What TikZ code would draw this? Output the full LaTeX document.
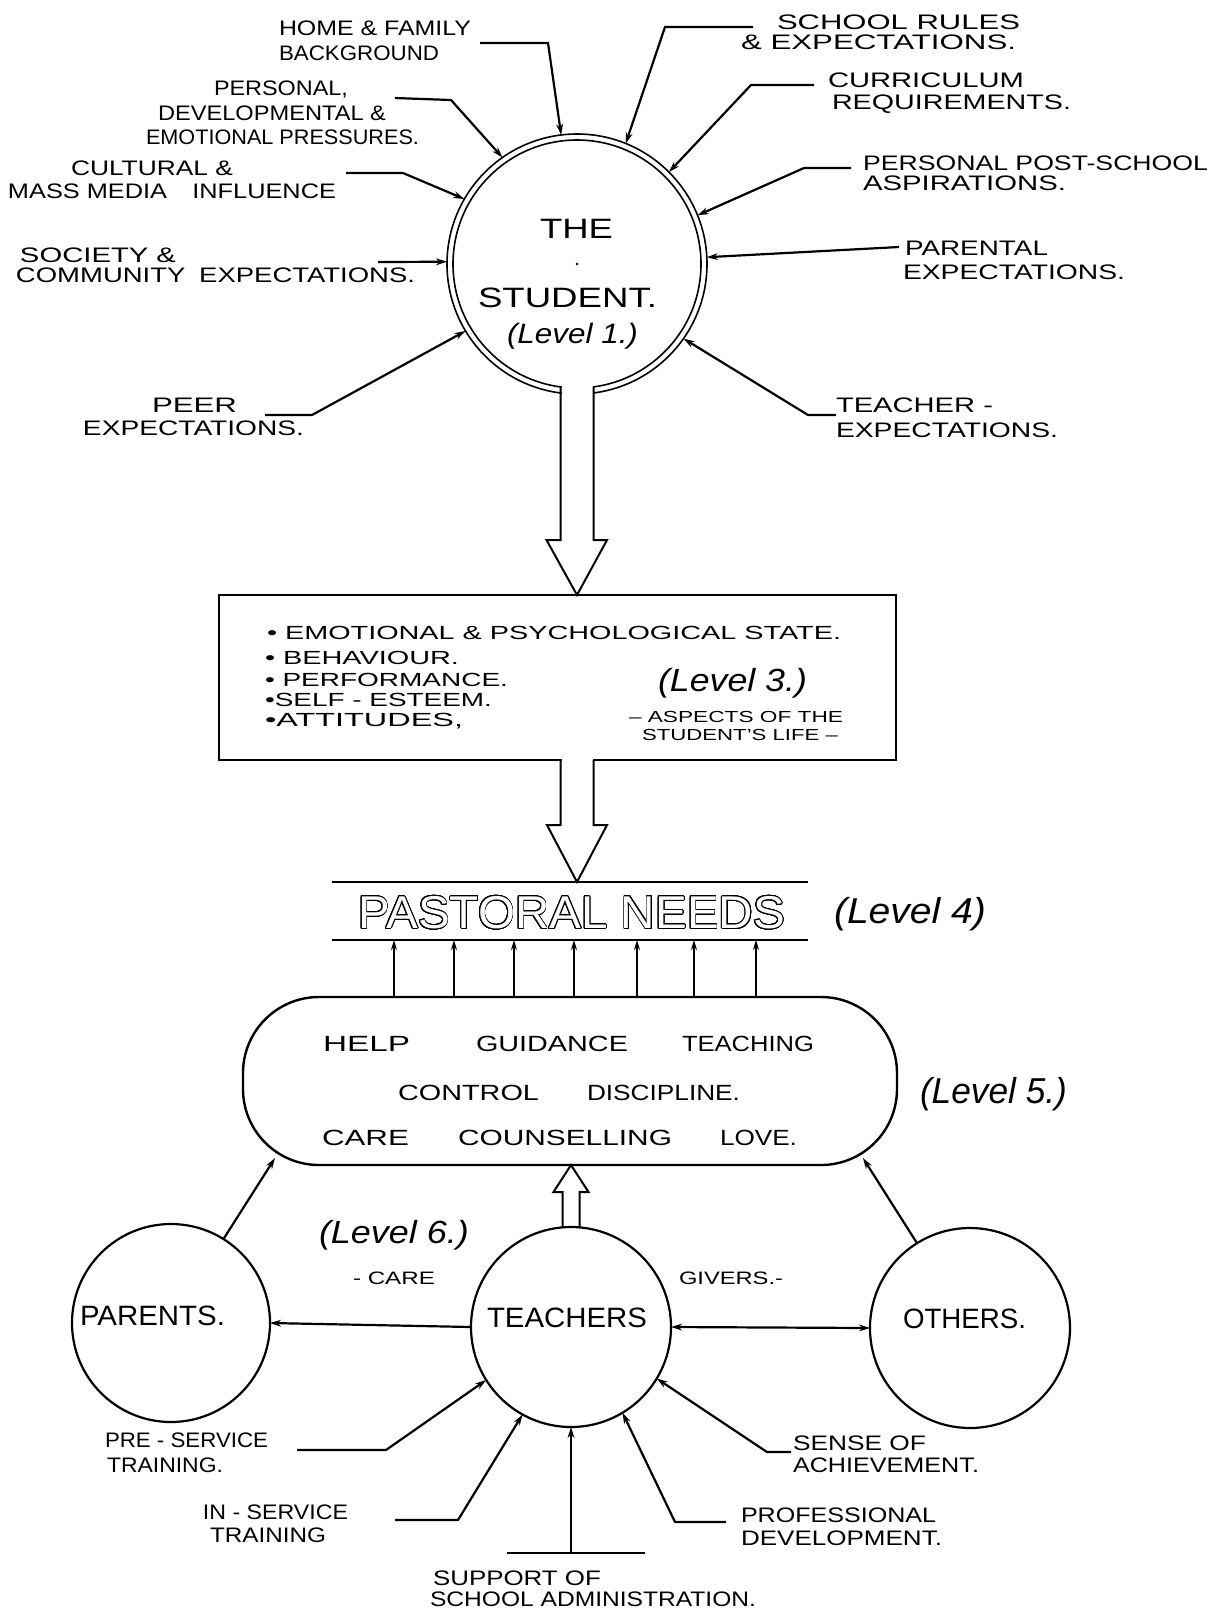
\documentclass[tikz,border=0pt]{standalone}
\usepackage{fontspec}
\setmainfont{Liberation Sans}
\usepackage{graphicx}
\usepackage{contour}
\contourlength{0.4pt}
\contournumber{32}
\usetikzlibrary{arrows.meta,calc}
\newsavebox\fitbox
\newcommand\fitto[2]{\sbox\fitbox{#2}\scalebox{\fpeval{(#1*0.5)/(\the\wd\fitbox)}}[1]{\usebox\fitbox}}
\tikzset{
  lab/.style={anchor=west, inner sep=0pt, outer sep=0pt, font=\fontsize{10.5}{12}\selectfont, text height=7.5pt, text depth=0pt},
  boxt/.style={lab, font=\fontsize{9.5}{11}\selectfont, text height=6.8pt},
  small/.style={lab, font=\fontsize{8}{9}\selectfont, text height=5.7pt},
  sm2/.style={lab, font=\fontsize{9}{10}\selectfont, text height=6.5pt},
  mid/.style={lab, font=\fontsize{11}{13}\selectfont, text height=8pt},
  big/.style={lab, font=\fontsize{14}{16}\selectfont, text height=10pt},
  lev/.style={lab, font=\fontsize{16}{18}\selectfont\itshape, text height=11.5pt},
  lead/.style={line width=1.1pt, -{Stealth[length=5.5pt,width=3.4pt]}},
  upar/.style={line width=0.7pt, -{Stealth[length=5pt,width=3pt]}},
  rim/.style={line width=0.8pt},
  ring/.style={circle, draw, line width=1.1pt, inner sep=0pt, outer sep=0pt},
}
\begin{document}
\begin{tikzpicture}[x=0.5pt,y=-0.5pt]
\fill[white] (0,0) rectangle (1216,1614);
\useasboundingbox (0,0) rectangle (1216,1614);

% ---------- Level 1 : the student ----------
\node[circle, minimum size=130pt, inner sep=0pt, outer sep=0pt] (student) at (577,264) {};
\draw[rim] (student.center) circle[radius=130] (student.center) circle[radius=124];
\fill[white] (562,380) rectangle (592.5,400);
\fill (student.center) circle[radius=1.4];
\node[big] (the) at (540,228) {\fitto{73}{THE}};
\node[big] (stu) at (478,297) {\fitto{179}{STUDENT.}};
\node[lev, font=\fontsize{14}{16}\selectfont\itshape, text height=10pt] (lv1) at (507,333) {\fitto{131}{(Level 1.)}};

% left labels
\node[lab] (h1) at (279,28) {\fitto{192}{HOME \& FAMILY}};
\node[lab] (h2) at (279,53) {\fitto{160}{BACKGROUND}};
\node[lab] (p1) at (214,88) {\fitto{134}{PERSONAL,}};
\node[lab] (p2) at (158,113) {\fitto{228}{DEVELOPMENTAL \&}};
\node[lab] (p3) at (146,137) {\fitto{273}{EMOTIONAL PRESSURES.}};
\node[lab] (c1) at (71,168) {\fitto{162}{CULTURAL \&}};
\node[lab] (c2) at (8,191) {\fitto{328}{MASS MEDIA\quad INFLUENCE}};
\node[lab] (s1) at (20,255) {\fitto{156}{SOCIETY \&}};
\node[lab] (s2) at (16,275) {\fitto{399}{COMMUNITY\enspace EXPECTATIONS.}};
\node[lab] (e1) at (152,405) {\fitto{85}{PEER}};
\node[lab] (e2) at (83,428) {\fitto{221}{EXPECTATIONS.}};
% right labels
\node[lab] (r1) at (777,22) {\fitto{243}{SCHOOL RULES}};
\node[lab] (r2) at (741,42) {\fitto{275}{\& EXPECTATIONS.}};
\node[lab] (q1) at (828,80) {\fitto{196}{CURRICULUM}};
\node[lab] (q2) at (832,102) {\fitto{239}{REQUIREMENTS.}};
\node[lab] (a1) at (863,163) {\fitto{345}{PERSONAL POST-SCHOOL}};
\node[lab] (a2) at (863,183) {\fitto{203}{ASPIRATIONS.}};
\node[lab] (t1) at (905,248) {\fitto{143}{PARENTAL}};
\node[lab] (t2) at (903,272) {\fitto{222}{EXPECTATIONS.}};
\node[lab] (u1) at (836,405) {\fitto{157}{TEACHER -}};
\node[lab] (u2) at (836,430) {\fitto{222}{EXPECTATIONS.}};

% leaders into the student
\coordinate (hA) at (480,43);  \coordinate (hB) at (548,43);
\draw[lead] (hA) -- (hB) -- (student.97.5);
\coordinate (pA) at (395,98);  \coordinate (pB) at (451,100);
\draw[lead] (pA) -- (pB) -- (student.125.7);
\coordinate (cA) at (346,173); \coordinate (cB) at (403,173);
\draw[lead] (cA) -- (cB) -- (student.150.7);
\coordinate (sA) at (378,262);
\draw[lead] (sA) -- (student.179.5);
\coordinate (eA) at (265,415); \coordinate (eB) at (312,415);
\draw[lead] (eA) -- (eB) -- (student.211.7);
\coordinate (rA) at (753,27);  \coordinate (rB) at (665,27);
\draw[lead] (rA) -- (rB) -- (student.68.4);
\coordinate (qA) at (814,85);  \coordinate (qB) at (751,85);
\draw[lead] (qA) -- (qB) -- (student.45);
\coordinate (aA) at (851,168); \coordinate (aB) at (804,168);
\draw[lead] (aA) -- (aB) -- (student.22.9);
\coordinate (tA) at (899,247);
\draw[lead] (tA) -- (student.3);
\coordinate (uA) at (836,415); \coordinate (uB) at (808,415);
\draw[lead] (uA) -- (uB) -- (student.-35.6);

% ---------- Level 3 box ----------
\node[draw, line width=1.2pt, minimum width=338.5pt, minimum height=82.5pt, inner sep=0pt, outer sep=0pt] (aspects) at (557.5,677.5) {};
\draw[rim, line width=1pt] ($(student.center)+(-16.5,122.9)$) -- ($(student.center)+(-16.5,276)$) -- ++(-14,0)
  -- (aspects.north -| student.center) -- ($(student.center)+(30,276)$) -- ++(-13.5,0) -- ($(student.center)+(16.5,122.9)$);
\node[boxt] (b1) at (267,633) {\fitto{574}{\textbullet\ EMOTIONAL \& PSYCHOLOGICAL STATE.}};
\node[boxt] (b2) at (265,658) {\fitto{194}{\textbullet\ BEHAVIOUR.}};
\node[boxt] (b3) at (265,680) {\fitto{243}{\textbullet\ PERFORMANCE.}};
\node[boxt] (b4) at (265,700) {\fitto{227}{\textbullet SELF - ESTEEM.}};
\node[boxt] (b5) at (265,720) {\fitto{198}{\textbullet ATTITUDES,}};
\node[lev] (lv3) at (658,680) {\fitto{149}{(Level 3.)}};
\node[small] (asp1) at (629,717) {\fitto{214}{– ASPECTS OF THE}};
\node[small] (asp2) at (642,735) {\fitto{196}{STUDENT'S LIFE –}};

% ---------- Level 4 ----------
\node[inner sep=0pt, outer sep=0pt, minimum width=238pt, minimum height=29pt] (pastoral) at (570,911) {};
\draw[line width=1.3pt] (pastoral.north west) -- (pastoral.north east) (pastoral.south west) -- (pastoral.south east);
\node[inner sep=0pt, font=\fontsize{23}{26}\selectfont, text height=16.5pt, text depth=0pt] (pn) at (571.5,912)
  {\fitto{427}{{\color{white}\contour{black}{PASTORAL NEEDS}}}};
\node[lev, font=\fontsize{18}{20}\selectfont\itshape, text height=13pt] (lv4) at (834,910) {\fitto{152}{(Level 4)}};

% arrow from box to pastoral needs
\coordinate (a2top) at (aspects.south -| student.center);
\fill[white] (561.5,755) rectangle (592.5,766);
\draw[rim, line width=1pt] ($(a2top)+(-16.5,0)$) -- ++(0,65) -- ++(-13.5,0) -- (pastoral.north -| a2top)
  -- ($(a2top)+(30,65)$) -- ++(-13.5,0) -- ++(0,-65);

% ---------- Level 5 ----------
\node[draw, line width=1.2pt, rounded corners=38pt, minimum width=327pt, minimum height=84pt, inner sep=0pt, outer sep=0pt] (care) at (570,1081) {};
\foreach \x in {394,454,514,574,637,694,756}{
  \coordinate (ux) at (\x,0);
  \draw[upar] (care.north -| ux) -- (pastoral.south -| ux);
}
\node[mid] (w1) at (323,1043) {\fitto{87}{HELP}};
\node[mid] (w2) at (476,1043) {\fitto{152}{GUIDANCE}};
\node[mid] (w3) at (682,1043) {\fitto{132}{TEACHING}};
\node[mid] (w4) at (398,1092) {\fitto{141}{CONTROL}};
\node[mid] (w5) at (587,1092) {\fitto{153}{DISCIPLINE.}};
\node[mid] (w6) at (322,1137) {\fitto{87}{CARE}};
\node[mid] (w7) at (458,1137) {\fitto{214}{COUNSELLING}};
\node[mid] (w8) at (720,1137) {\fitto{77}{LOVE.}};
\node[lev, font=\fontsize{18}{20}\selectfont\itshape, text height=13pt] (lv5) at (920,1090) {\fitto{147}{(Level 5.)}};

% ---------- Level 6 ----------
\node[ring, minimum size=99pt] (parents) at (171,1323) {};
\node[ring, minimum size=100pt] (teachers) at (571,1327) {};
\node[ring, minimum size=100pt] (others) at (970,1328) {};
\node[big] (parT) at (80,1315) {\fitto{145}{PARENTS.}};
\node[big] (teaT) at (487,1317) {\fitto{160}{TEACHERS}};
\node[big] (othT) at (903,1318) {\fitto{123}{OTHERS.}};
\node[lev] (lv6) at (319,1232) {\fitto{150}{(Level 6.)}};
\node[sm2] (cg1) at (353,1278) {\fitto{82}{- CARE}};
\node[sm2] (cg2) at (679,1278) {\fitto{104}{GIVERS.-}};

\draw[lead] (teachers.west) -- (parents.east);
\draw[line width=1.1pt, {Stealth[length=5.5pt,width=3.4pt]}-{Stealth[length=5.5pt,width=3.4pt]}] (teachers.east) -- (others.west);
\coordinate (cL) at (275,1158);
\coordinate (cR) at (863,1158);
\draw[lead] (parents.58.5) -- (cL);
\draw[lead] (others.122.5) -- (cR);
\draw[rim, line width=1pt] ($(teachers.north)+(-8.5,0)$) -- ++(0,-35) -- ++(-9,0) -- (care.south -| teachers.north)
  -- ($(teachers.north)+(17.5,-35)$) -- ++(-9,0) -- ++(0,35);

% influences on teachers
\node[lab] (pre1) at (105,1440) {\fitto{163}{PRE - SERVICE}};
\node[lab] (pre2) at (107,1465) {\fitto{116}{TRAINING.}};
\node[lab] (in1) at (203,1512) {\fitto{145}{IN - SERVICE}};
\node[lab] (in2) at (210,1535) {\fitto{116}{TRAINING}};
\node[lab] (sup1) at (433,1578) {\fitto{168}{SUPPORT OF}};
\node[lab] (sup2) at (430,1599) {\fitto{326}{SCHOOL ADMINISTRATION.}};
\node[lab] (sen1) at (793,1443) {\fitto{133}{SENSE OF}};
\node[lab] (sen2) at (793,1465) {\fitto{186}{ACHIEVEMENT.}};
\node[lab] (pro1) at (741,1515) {\fitto{195}{PROFESSIONAL}};
\node[lab] (pro2) at (741,1538) {\fitto{201}{DEVELOPMENT.}};

\coordinate (preA) at (297,1450); \coordinate (preB) at (386,1450);
\draw[lead] (preA) -- (preB) -- (teachers.212.8);
\coordinate (inA) at (395,1520); \coordinate (inB) at (458,1520);
\draw[lead] (inA) -- (inB) -- (teachers.241.4);
\coordinate (sbA) at (507,1553); \coordinate (sbB) at (645,1553);
\draw[line width=1.1pt] (sbA) -- (sbB);
\draw[lead] (sbA -| teachers.south) -- (teachers.south);
\coordinate (proA) at (726,1522); \coordinate (proB) at (675,1522);
\draw[lead] (proA) -- (proB) -- (teachers.301.4);
\coordinate (senA) at (791,1452); \coordinate (senB) at (767,1452);
\draw[lead] (senA) -- (senB) -- (teachers.329);
\end{tikzpicture}
\end{document}
